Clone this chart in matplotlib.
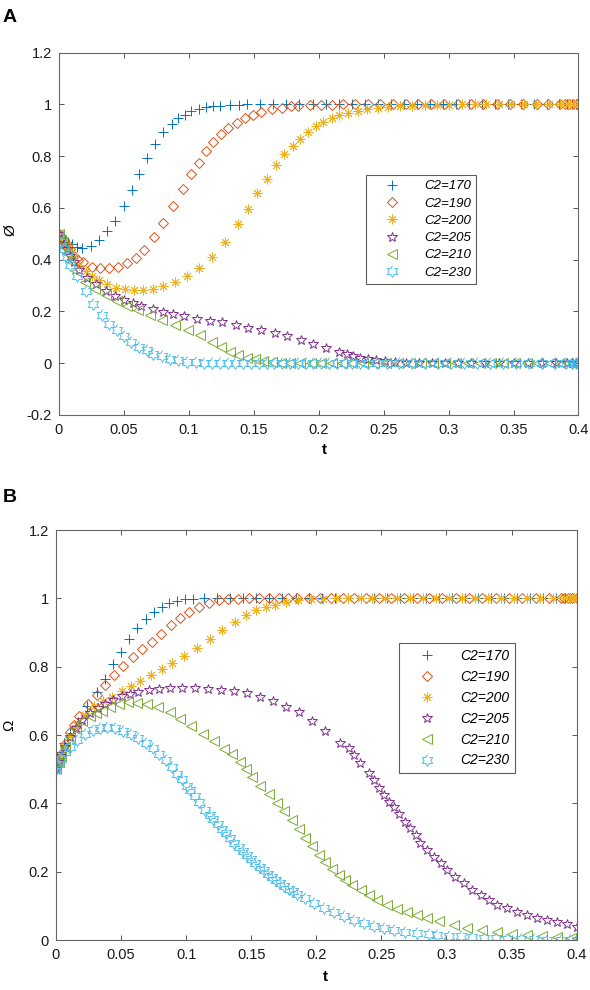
import matplotlib.pyplot as plt
from matplotlib.ticker import FormatStrFormatter, MultipleLocator
import numpy as np

plt.rcParams['font.family'] = ['Liberation Sans', 'DejaVu Sans']

labels = ['C2=170', 'C2=190', 'C2=200', 'C2=205', 'C2=210', 'C2=230']
colors = ['#0072BD', '#D95319', '#EDB120', '#7E2F8E', '#77AC30', '#4DBEEE']

# ---- panel A (phi) ----
tA170 = [0, 0.002, 0.004, 0.007, 0.010, 0.014, 0.018, 0.0246, 0.031, 0.0374, 0.0435, 0.050,
         0.0564, 0.062, 0.068, 0.0738, 0.0805, 0.087, 0.092, 0.097, 0.102, 0.1077, 0.113, 0.119,
         0.124, 0.132, 0.139, 0.145, 0.155, 0.165, 0.175, 0.185, 0.196, 0.206, 0.216, 0.226,
         0.236, 0.246, 0.256, 0.266, 0.276, 0.286, 0.296, 0.306, 0.316, 0.326, 0.336, 0.346,
         0.356, 0.366, 0.376, 0.385, 0.391, 0.395, 0.398, 0.4]
yA170 = [0.5, 0.49, 0.48, 0.47, 0.46, 0.45, 0.445, 0.453, 0.475, 0.511, 0.55, 0.607,
         0.668, 0.733, 0.795, 0.849, 0.892, 0.924, 0.946, 0.961, 0.974, 0.984, 0.99, 0.993,
         0.996, 0.998, 0.999, 1, 1, 1, 1, 1, 1, 1, 1, 1,
         1, 1, 1, 1, 1, 1, 1, 1, 1, 1, 1, 1,
         1, 1, 1, 1, 1, 1, 1, 1]

tA190 = [0, 0.002, 0.004, 0.006, 0.009, 0.0118, 0.015, 0.019, 0.0254, 0.0318, 0.0387, 0.0454,
         0.0523, 0.0592, 0.0659, 0.0733, 0.0805, 0.088, 0.0954, 0.1015, 0.1077, 0.1133, 0.119,
         0.1246, 0.1305, 0.137, 0.1433, 0.1497, 0.156, 0.164, 0.1715, 0.179, 0.184, 0.193, 0.202,
         0.2105, 0.219, 0.228, 0.2377, 0.247, 0.2574, 0.2675, 0.2767, 0.2864, 0.2966, 0.307,
         0.317, 0.3266, 0.337, 0.347, 0.357, 0.3677, 0.3766, 0.3856, 0.3895, 0.3928, 0.396,
         0.3985, 0.4]
yA190 = [0.5, 0.49, 0.475, 0.46, 0.44, 0.416, 0.40, 0.39, 0.372, 0.366, 0.366, 0.372,
         0.387, 0.408, 0.439, 0.486, 0.542, 0.607, 0.675, 0.73, 0.774, 0.819, 0.855,
         0.885, 0.909, 0.93, 0.948, 0.961, 0.971, 0.982, 0.988, 0.993, 0.995, 0.997, 0.998,
         0.999, 1, 1, 1, 1, 1, 1, 1, 1, 1, 1,
         1, 1, 1, 1, 1, 1, 1, 1, 1, 1, 1,
         1, 1]

tA200 = [0, 0.002, 0.004, 0.006, 0.009, 0.012, 0.016, 0.021, 0.026, 0.0308, 0.0374, 0.044,
         0.051, 0.058, 0.065, 0.0728, 0.0805, 0.0895, 0.0985, 0.108, 0.118, 0.128, 0.138,
         0.1456, 0.1523, 0.16, 0.167, 0.1735, 0.18, 0.1856, 0.192, 0.198, 0.2035, 0.21, 0.216,
         0.2228, 0.2305, 0.2374, 0.246, 0.2535, 0.2625, 0.272, 0.2815, 0.291, 0.3005, 0.31,
         0.32, 0.329, 0.339, 0.348, 0.358, 0.367, 0.377, 0.386, 0.392, 0.396, 0.4]
yA200 = [0.5, 0.485, 0.47, 0.455, 0.435, 0.41, 0.38, 0.355, 0.335, 0.32, 0.305, 0.292,
         0.286, 0.282, 0.282, 0.287, 0.297, 0.314, 0.336, 0.366, 0.41, 0.468, 0.537,
         0.594, 0.656, 0.711, 0.765, 0.807, 0.839, 0.868, 0.894, 0.916, 0.932, 0.948, 0.959,
         0.968, 0.975, 0.981, 0.987, 0.991, 0.993, 0.995, 0.997, 0.998, 0.999, 1,
         1, 1, 1, 1, 1, 1, 1, 1, 1, 1, 1]

tA205 = [0, 0.002, 0.004, 0.006, 0.009, 0.012, 0.016, 0.022, 0.029, 0.0364, 0.043, 0.05,
         0.057, 0.0636, 0.0723, 0.0805, 0.088, 0.0967, 0.1066, 0.1164, 0.126, 0.1364, 0.1459,
         0.156, 0.1664, 0.176, 0.1864, 0.196, 0.2056, 0.216, 0.2215, 0.2266, 0.2318, 0.238,
         0.244, 0.251, 0.2587, 0.267, 0.277, 0.287, 0.297, 0.307, 0.317, 0.328, 0.339, 0.35,
         0.361, 0.372, 0.383, 0.391, 0.395, 0.398, 0.4]
yA205 = [0.5, 0.48, 0.46, 0.44, 0.415, 0.39, 0.36, 0.33, 0.304, 0.279, 0.258, 0.243,
         0.232, 0.22, 0.208, 0.198, 0.189, 0.181, 0.172, 0.163, 0.157, 0.146, 0.137,
         0.127, 0.116, 0.104, 0.088, 0.073, 0.058, 0.043, 0.034, 0.026, 0.021, 0.015,
         0.011, 0.007, 0.004, 0.002, 0.001, 0.001, 0, 0, 0, 0, 0, 0,
         0, 0, 0, 0, 0, 0, 0]

tA210 = [0, 0.002, 0.004, 0.006, 0.009, 0.0133, 0.0202, 0.0279, 0.0364, 0.0446, 0.0523,
         0.0613, 0.0702, 0.0797, 0.0895, 0.0997, 0.1087, 0.1177, 0.125, 0.1318, 0.138, 0.1446,
         0.151, 0.1574, 0.164, 0.171, 0.178, 0.186, 0.194, 0.202, 0.21, 0.218, 0.226, 0.234,
         0.243, 0.252, 0.261, 0.27, 0.279, 0.288, 0.297, 0.306, 0.315, 0.324, 0.333, 0.342,
         0.351, 0.36, 0.369, 0.378, 0.386, 0.392, 0.396, 0.4]
yA210 = [0.5, 0.475, 0.45, 0.425, 0.395, 0.356, 0.314, 0.288, 0.262, 0.24, 0.22,
         0.204, 0.185, 0.166, 0.146, 0.127, 0.108, 0.082, 0.062, 0.043, 0.03, 0.021,
         0.014, 0.007, 0.003, 0.002, 0.001, 0.001, 0, 0, 0, 0, 0, 0,
         0, 0, 0, 0, 0, 0, 0, 0, 0, 0, 0, 0,
         0, 0, 0, 0, 0, 0, 0, 0]

tA230 = [0, 0.002, 0.004, 0.006, 0.009, 0.0138, 0.021, 0.0266, 0.033, 0.0387, 0.0446,
         0.0505, 0.056, 0.062, 0.0677, 0.0728, 0.0792, 0.0856, 0.092, 0.099, 0.106, 0.112,
         0.118, 0.124, 0.13, 0.136, 0.142, 0.148, 0.154, 0.16, 0.166, 0.172, 0.178, 0.184,
         0.19, 0.196, 0.202, 0.208, 0.214, 0.22, 0.226, 0.232, 0.238, 0.245, 0.253, 0.262,
         0.272, 0.282, 0.292, 0.302, 0.312, 0.322, 0.332, 0.342, 0.352, 0.362, 0.372, 0.382,
         0.39, 0.395, 0.398, 0.4]
yA230 = [0.5, 0.47, 0.44, 0.41, 0.38, 0.336, 0.279, 0.23, 0.185, 0.153, 0.127,
         0.104, 0.082, 0.062, 0.05, 0.037, 0.026, 0.017, 0.011, 0.006, 0.003, 0.002,
         0.001, 0.001, 0, 0, 0, 0, 0, 0, 0, 0, 0, 0,
         0, 0, 0, 0, 0, 0, 0, 0, 0, 0, 0, 0,
         0, 0, 0, 0, 0, 0, 0, 0, 0, 0, 0, 0,
         0, 0, 0, 0]

# ---- panel B (omega) ----
tB170 = [0, 0.002, 0.004, 0.0064, 0.0108, 0.0172, 0.0236, 0.0313, 0.0377, 0.0436, 0.0498,
         0.0562, 0.062, 0.069, 0.0754, 0.0813, 0.0872, 0.0928, 0.0992, 0.105, 0.114, 0.1235,
         0.134, 0.144, 0.154, 0.164, 0.174, 0.184, 0.194, 0.204, 0.214, 0.224, 0.234, 0.244,
         0.254, 0.264, 0.274, 0.284, 0.294, 0.304, 0.314, 0.324, 0.334, 0.344, 0.354, 0.364,
         0.374, 0.384, 0.391, 0.395, 0.398, 0.4]
yB170 = [0.5, 0.525, 0.55, 0.576, 0.605, 0.639, 0.685, 0.725, 0.764, 0.807, 0.844,
         0.88, 0.912, 0.941, 0.961, 0.975, 0.985, 0.992, 0.997, 0.999, 1, 1,
         1, 1, 1, 1, 1, 1, 1, 1, 1, 1, 1, 1,
         1, 1, 1, 1, 1, 1, 1, 1, 1, 1, 1, 1,
         1, 1, 1, 1, 1, 1]

tB190 = [0, 0.002, 0.004, 0.007, 0.011, 0.014, 0.018, 0.0249, 0.0313, 0.0377, 0.0449,
         0.0518, 0.0595, 0.0664, 0.0736, 0.0808, 0.0885, 0.0954, 0.1018, 0.1095, 0.1172,
         0.1249, 0.1325, 0.14, 0.148, 0.156, 0.164, 0.171, 0.178, 0.185, 0.194, 0.2025,
         0.2113, 0.2205, 0.2292, 0.2385, 0.248, 0.2577, 0.2672, 0.277, 0.2864, 0.2967, 0.307,
         0.3172, 0.3275, 0.3377, 0.348, 0.3582, 0.3685, 0.3787, 0.3877, 0.3902, 0.3933,
         0.3967, 0.4]
yB190 = [0.5, 0.522, 0.545, 0.575, 0.61, 0.63, 0.655, 0.69, 0.717, 0.746, 0.776,
         0.802, 0.827, 0.851, 0.873, 0.896, 0.922, 0.944, 0.961, 0.975, 0.987,
         0.995, 0.998, 0.999, 1, 1, 1, 1, 1, 1, 1, 1,
         1, 1, 1, 1, 1, 1, 1, 1, 1, 1, 1,
         1, 1, 1, 1, 1, 1, 1, 1, 1, 1,
         1, 1]

tB200 = [0, 0.002, 0.004, 0.007, 0.011, 0.016, 0.022, 0.029, 0.036, 0.0433, 0.0505, 0.0577,
         0.0646, 0.0728, 0.0813, 0.0895, 0.098, 0.1082, 0.118, 0.1274, 0.1377, 0.146, 0.154,
         0.161, 0.168, 0.1765, 0.186, 0.196, 0.205, 0.215, 0.224, 0.234, 0.243, 0.253, 0.262,
         0.272, 0.282, 0.292, 0.302, 0.312, 0.322, 0.332, 0.342, 0.352, 0.362, 0.372, 0.382,
         0.39, 0.395, 0.398, 0.4]
yB200 = [0.5, 0.52, 0.54, 0.567, 0.598, 0.63, 0.66, 0.685, 0.7, 0.712, 0.73, 0.743,
         0.759, 0.775, 0.793, 0.812, 0.83, 0.855, 0.88, 0.907, 0.932, 0.95, 0.965,
         0.974, 0.982, 0.99, 0.995, 0.998, 0.999, 1, 1, 1, 1, 1, 1,
         1, 1, 1, 1, 1, 1, 1, 1, 1, 1, 1, 1,
         1, 1, 1, 1]

tB205 = [0, 0.002, 0.004, 0.007, 0.011, 0.015, 0.02, 0.026, 0.032, 0.0377, 0.0441, 0.0505,
         0.057, 0.0633, 0.0715, 0.0792, 0.0877, 0.0967, 0.107, 0.117, 0.1267, 0.1364, 0.1467,
         0.157, 0.1667, 0.177, 0.1864, 0.1967, 0.207, 0.2185, 0.2249, 0.2287, 0.2338, 0.2402,
         0.2441, 0.248, 0.2518, 0.2557, 0.2595, 0.2633, 0.2685, 0.2723, 0.2762, 0.28, 0.2851,
         0.2902, 0.2954, 0.3005, 0.3069, 0.3133, 0.3198, 0.3262, 0.3325, 0.339, 0.3467,
         0.3544, 0.362, 0.3698, 0.3775, 0.385, 0.3928, 0.4]
yB205 = [0.5, 0.52, 0.54, 0.565, 0.595, 0.62, 0.645, 0.665, 0.68, 0.691, 0.703, 0.715,
         0.72, 0.725, 0.732, 0.735, 0.738, 0.738, 0.738, 0.735, 0.732, 0.728, 0.722,
         0.71, 0.7, 0.682, 0.666, 0.641, 0.613, 0.577, 0.561, 0.541, 0.517, 0.49,
         0.468, 0.444, 0.424, 0.405, 0.388, 0.369, 0.346, 0.327, 0.307, 0.285, 0.263,
         0.244, 0.224, 0.205, 0.185, 0.166, 0.146, 0.132, 0.117, 0.102, 0.093,
         0.083, 0.073, 0.063, 0.059, 0.054, 0.047, 0.039]

tB210 = [0, 0.002, 0.004, 0.007, 0.011, 0.015, 0.02, 0.026, 0.031, 0.0351, 0.0415, 0.0485,
         0.0551, 0.062, 0.0698, 0.0782, 0.0877, 0.0955, 0.104, 0.113, 0.1215, 0.129, 0.1355,
         0.1415, 0.146, 0.1505, 0.157, 0.1633, 0.17, 0.175, 0.181, 0.1864, 0.1915, 0.1967,
         0.2018, 0.207, 0.212, 0.2172, 0.2223, 0.2275, 0.234, 0.2404, 0.2467, 0.2544, 0.2621,
         0.2698, 0.2775, 0.2851, 0.294, 0.3056, 0.3159, 0.3275, 0.339, 0.3505, 0.362, 0.3736,
         0.385, 0.3954, 0.4]
yB210 = [0.5, 0.52, 0.54, 0.565, 0.595, 0.618, 0.64, 0.655, 0.665, 0.671, 0.683, 0.691,
         0.696, 0.695, 0.69, 0.681, 0.666, 0.648, 0.626, 0.604, 0.582, 0.56, 0.543,
         0.52, 0.5, 0.478, 0.452, 0.427, 0.4, 0.378, 0.352, 0.326, 0.3, 0.275,
         0.25, 0.228, 0.208, 0.19, 0.175, 0.16, 0.145, 0.131, 0.117, 0.103, 0.091,
         0.081, 0.072, 0.064, 0.055, 0.044, 0.036, 0.03, 0.024, 0.019, 0.014, 0.011,
         0.009, 0.007, 0.006]

tB230 = [0, 0.002, 0.004, 0.007, 0.0105, 0.0159, 0.0223, 0.0287, 0.0338, 0.039, 0.0454,
         0.0518, 0.0577, 0.0633, 0.069, 0.0744, 0.0795, 0.0846, 0.089, 0.0933, 0.0967, 0.1005,
         0.1031, 0.1065, 0.1095, 0.1146, 0.118, 0.121, 0.1245, 0.1274, 0.1305, 0.1338, 0.137,
         0.1403, 0.1435, 0.1467, 0.15, 0.1531, 0.1565, 0.1595, 0.1628, 0.1659, 0.1692, 0.1723,
         0.1755, 0.1787, 0.182, 0.1851, 0.1915, 0.1979, 0.2056, 0.2133, 0.221, 0.2287, 0.2364,
         0.2441, 0.2518, 0.2595, 0.2685, 0.2774, 0.2864, 0.2928, 0.3018, 0.3108, 0.3197,
         0.3287, 0.3377, 0.3467, 0.3569, 0.3672, 0.3774, 0.3877, 0.395, 0.4]
yB230 = [0.5, 0.515, 0.53, 0.55, 0.565, 0.585, 0.602, 0.614, 0.621, 0.624, 0.62,
         0.613, 0.603, 0.591, 0.577, 0.561, 0.544, 0.526, 0.507, 0.487, 0.47, 0.452,
         0.438, 0.421, 0.404, 0.382, 0.367, 0.354, 0.339, 0.326, 0.313, 0.299, 0.285,
         0.272, 0.26, 0.248, 0.236, 0.225, 0.214, 0.204, 0.194, 0.185, 0.175, 0.167,
         0.158, 0.15, 0.142, 0.135, 0.122, 0.109, 0.095, 0.081, 0.069, 0.058, 0.049,
         0.041, 0.034, 0.029, 0.024, 0.021, 0.018, 0.016, 0.013, 0.011, 0.009,
         0.007, 0.005, 0.004, 0.003, 0.002, 0.001, 0.001, 0, 0]

# six-pointed star (MATLAB hexagram)
k = np.arange(12)
ang = np.deg2rad(90 + 30 * k)
rad = np.where(k % 2 == 0, 1.0, 0.577)
hexagram = list(zip(rad * np.cos(ang), rad * np.sin(ang)))

markers = ['+', 'D', (8, 2, 0), '*', '<', hexagram]
msizes = [7, 5, 7, 7.5, 7, 8.5]


def draw_panel(ax, series, ylim, yticks, leg_anchor, leg_size, leg_space):
    for (t, y), c, m, s, lab in zip(series, colors, markers, msizes, labels):
        ax.plot(t, y, linestyle='none', marker=m, markersize=s, color=c,
                markerfacecolor='none', markeredgewidth=0.7, label=lab)
    ax.set_xlim(0, 0.4)
    ax.set_ylim(*ylim)
    ax.xaxis.set_major_locator(MultipleLocator(0.05))
    ax.set_yticks(yticks)
    ax.xaxis.set_major_formatter(FormatStrFormatter('%g'))
    ax.yaxis.set_major_formatter(FormatStrFormatter('%g'))
    ax.tick_params(direction='in', length=3.5, width=0.7, color='#555555',
                   labelsize=10.5, top=True, right=True, labelcolor='#1a1a1a')
    ax.tick_params(axis='x', pad=6)
    ax.tick_params(axis='y', pad=5)
    for sp in ax.spines.values():
        sp.set_color('#666666')
        sp.set_linewidth(0.8)
    leg = ax.legend(loc='upper left', bbox_to_anchor=leg_anchor, frameon=True,
                    fancybox=False, edgecolor='#333333',
                    prop={'style': 'italic', 'size': leg_size},
                    handlelength=3.2, handletextpad=0.8, labelspacing=leg_space,
                    borderpad=0.4, borderaxespad=0)
    leg.get_frame().set_linewidth(0.8)


fig = plt.figure(figsize=(5.9, 9.9), dpi=100)
axA = fig.add_axes([0.0995, 0.581, 0.881, 0.3657])
axB = fig.add_axes([0.0949, 0.0505, 0.8825, 0.4141])

draw_panel(axA, [(tA170, yA170), (tA190, yA190), (tA200, yA200),
                 (tA205, yA205), (tA210, yA210), (tA230, yA230)],
           (-0.2, 1.2), np.arange(-0.2, 1.21, 0.2), (0.591, 0.6625), 9.5, 0.38)
draw_panel(axB, [(tB170, yB170), (tB190, yB190), (tB200, yB200),
                 (tB205, yB205), (tB210, yB210), (tB230, yB230)],
           (0, 1.2), np.arange(0, 1.21, 0.2), (0.659, 0.724), 10, 0.5)

axA.set_xlabel('t', fontweight='bold', fontsize=11)
axA.xaxis.set_label_coords(0.512, -0.077)
axA.set_ylabel('\u00d8', fontsize=11)
axA.yaxis.set_label_coords(-0.08, 0.511)
axB.set_xlabel('t', fontweight='bold', fontsize=11)
axB.xaxis.set_label_coords(0.517, -0.073)
axB.set_ylabel('\u03a9', fontsize=11)
axB.yaxis.set_label_coords(-0.077, 0.524)

fig.text(0.005, 0.991, 'A', fontweight='bold', fontsize=14, va='top')
fig.text(0.005, 0.506, 'B', fontweight='bold', fontsize=14, va='top')

fig.savefig('out.png', dpi=100)
